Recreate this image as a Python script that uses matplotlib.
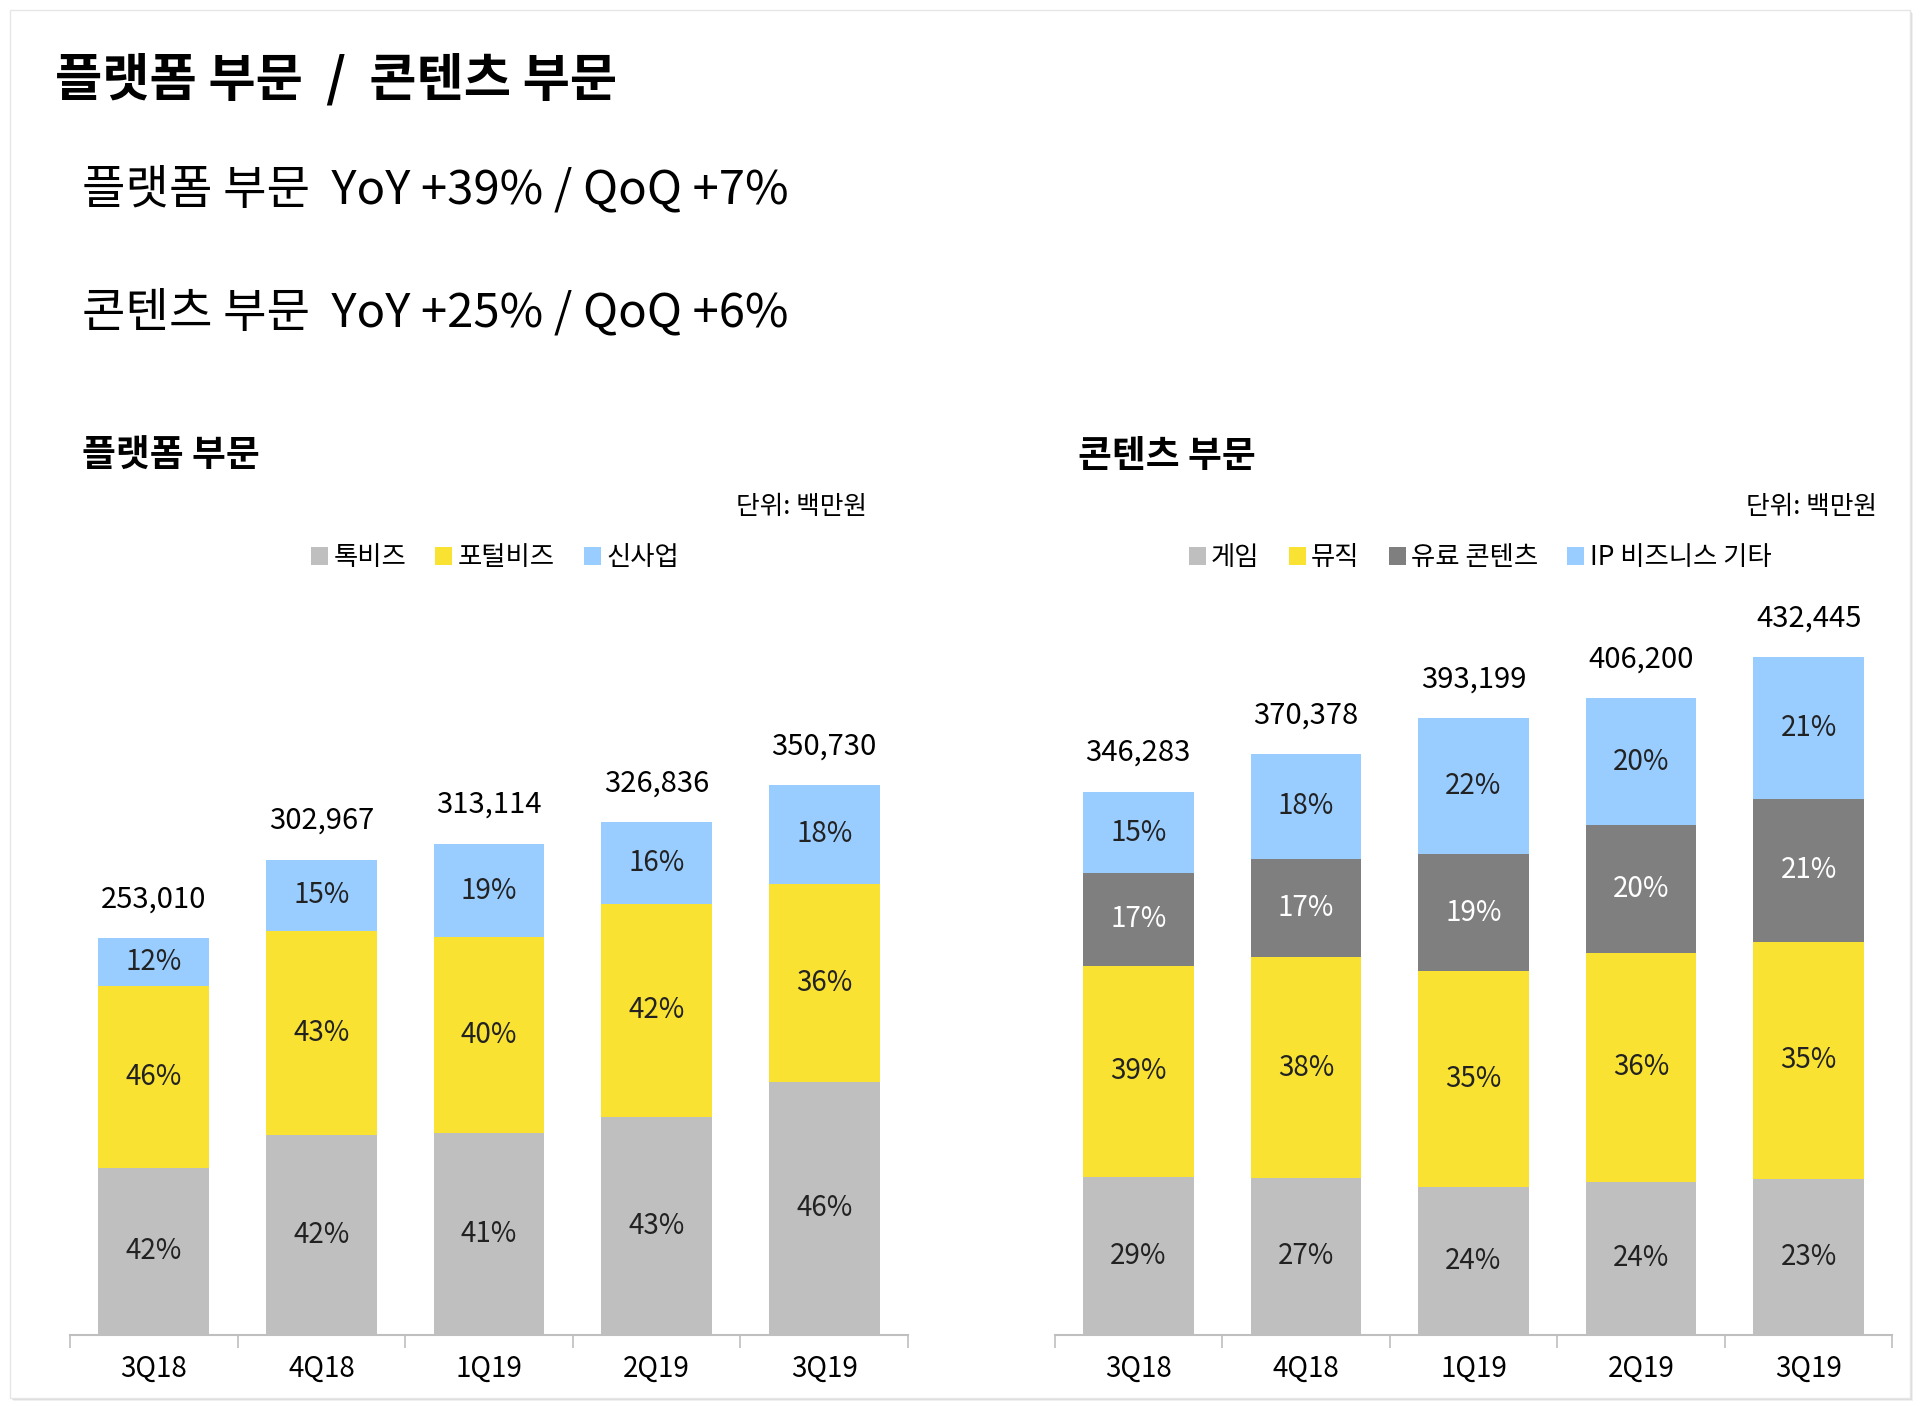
import numpy as np
import matplotlib
matplotlib.use('Agg')
import matplotlib.pyplot as plt
from matplotlib.patches import Rectangle

plt.rcParams['font.family'] = ['Noto Sans CJK KR', 'DejaVu Sans']

# ==== data ====
quarters = ['3Q18', '4Q18', '1Q19', '2Q19', '3Q19']

platform_total = [253010, 302967, 313114, 326836, 350730]
platform_labels = ['톡비즈', '포털비즈', '신사업']
talk_biz = [42, 42, 41, 43, 46]
portal_biz = [46, 43, 40, 42, 36]
new_biz = [12, 15, 19, 16, 18]

content_total = [346283, 370378, 393199, 406200, 432445]
content_labels = ['게임', '뮤직', '유료 콘텐츠', 'IP 비즈니스 기타']
game = [29, 27, 24, 24, 23]
music = [39, 38, 35, 36, 35]
paid_content = [17, 17, 19, 20, 21]
ip_biz = [15, 18, 22, 20, 21]

GRAY = '#BFBFBF'
YELLOW = '#F9E232'
DARK = '#7F7F7F'
BLUE = '#99CCFF'

W, H = 1920, 1406
fig = plt.figure(figsize=(W / 100, H / 100), dpi=100)

# frame with a soft shadow
for i, a in enumerate([0.06, 0.08, 0.12]):
    off = 3 - i
    fig.patches.append(Rectangle(((10 + off) / W, (H - 1398 - off) / H), 1900 / W, 1388 / H,
                                 transform=fig.transFigure, facecolor='#000000', alpha=a,
                                 edgecolor='none', zorder=-3))
fig.patches.append(Rectangle((10 / W, (H - 1398) / H), 1900 / W, 1388 / H,
                             transform=fig.transFigure, facecolor='white',
                             edgecolor='#E6E6E6', lw=1, zorder=-2))


def fx(px):
    return px / W


def fy(py):
    return 1 - py / H


# titles
fig.text(fx(55), fy(80), '플랫폼 부문  /  콘텐츠 부문', fontsize=37, fontweight='bold', va='center')
fig.text(fx(82), fy(190), '플랫폼 부문  YoY +39% / QoQ +7%', fontsize=34, fontweight='light', va='center')
fig.text(fx(82), fy(313), '콘텐츠 부문  YoY +25% / QoQ +6%', fontsize=34, fontweight='light', va='center')

fig.text(fx(82), fy(456), '플랫폼 부문', fontsize=26.5, fontweight='bold', va='center')
fig.text(fx(1078), fy(456), '콘텐츠 부문', fontsize=26.5, fontweight='bold', va='center')
fig.text(fx(867), fy(507), '단위: 백만원', fontsize=18.5, ha='right', va='center')
fig.text(fx(1877), fy(507), '단위: 백만원', fontsize=18.5, ha='right', va='center')

ymax = 450000
ax_h = 705 / H
ax_w = 838 / W
ax1 = fig.add_axes([fx(70), 1 - 1334.5 / H, ax_w, ax_h])
ax2 = fig.add_axes([fx(1054.5), 1 - 1334.5 / H, ax_w, ax_h])


def stacked(ax, totals, shares, colors, names, text_colors):
    x = np.arange(len(totals))
    sums = np.sum(shares, axis=0)
    bottom = np.zeros(len(totals))
    handles = []
    for share, color, name, tc in zip(shares, colors, names, text_colors):
        vals = np.array(totals) * np.array(share) / sums
        b = ax.bar(x, vals, bottom=bottom, width=0.66, color=color, label=name, zorder=2)
        handles.append(b)
        for xi, v, bt, s in zip(x, vals, bottom, share):
            ax.text(xi, bt + v / 2, f'{s}%', ha='center', va='center', fontsize=20,
                    fontweight='light', color=tc)
        bottom += vals
    for xi, t in zip(x, totals):
        ax.annotate(f'{t:,}', (xi, t), xytext=(0, 28), textcoords='offset points',
                    ha='center', va='center', fontsize=21)
    ax.set_xlim(-0.5, len(totals) - 0.5)
    ax.set_ylim(0, ymax)
    ax.set_xticks(x)
    ax.set_xticklabels(quarters, fontsize=20)
    ax.set_xticks(np.arange(len(totals) + 1) - 0.5, minor=True)
    ax.tick_params(axis='x', which='major', length=0, pad=14)
    ax.tick_params(axis='x', which='minor', length=9, width=1.2, color='#BFBFBF')
    ax.set_yticks([])
    for s in ['top', 'left', 'right']:
        ax.spines[s].set_visible(False)
    ax.spines['bottom'].set_color('#BFBFBF')
    ax.spines['bottom'].set_linewidth(1.5)
    ax.patch.set_alpha(0)
    return handles


h1 = stacked(ax1, platform_total, [talk_biz, portal_biz, new_biz],
             [GRAY, YELLOW, BLUE], platform_labels, ['#222222', '#222222', '#222222'])
h2 = stacked(ax2, content_total, [game, music, paid_content, ip_biz],
             [GRAY, YELLOW, DARK, BLUE], content_labels,
             ['#222222', '#222222', 'white', '#222222'])

leg_kw = dict(loc='center', frameon=False, fontsize=19, handlelength=0.65, handleheight=0.65,
              handletextpad=0.2, columnspacing=1.1, bbox_transform=fig.transFigure)
fig.legend(handles=h1, labels=platform_labels, ncol=3, bbox_to_anchor=(fx(495), fy(558)), **leg_kw)
fig.legend(handles=h2, labels=content_labels, ncol=4, bbox_to_anchor=(fx(1480), fy(558)), **leg_kw)

fig.savefig('out.png', dpi=100, facecolor='white')
